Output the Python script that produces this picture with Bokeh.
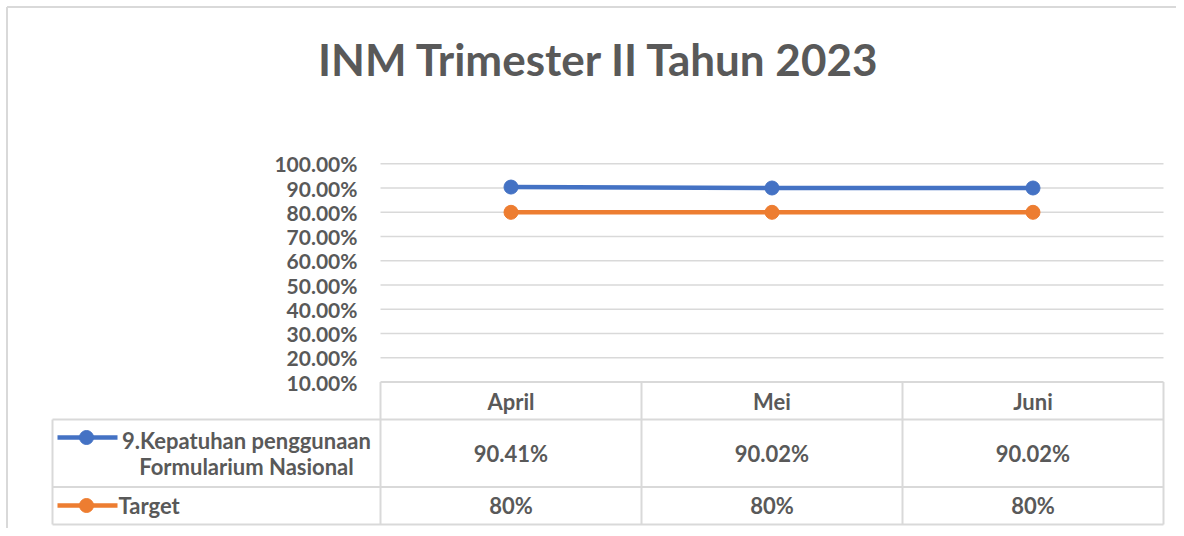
from bokeh.plotting import figure
from bokeh.models import Range1d
from bokeh.core.properties import value
from bokeh.embed import file_html
from bokeh.resources import INLINE

# ---------------- data ----------------
title_text = "INM Trimester II Tahun 2023"
months = ["April", "Mei", "Juni"]
kepatuhan = [90.41, 90.02, 90.02]
target = [80, 80, 80]
kepatuhan_labels = ["90.41%", "90.02%", "90.02%"]
target_labels = ["80%", "80%", "80%"]
series1_name = ["9.Kepatuhan penggunaan", "Formularium Nasional"]
series2_name = "Target"
y_ticks = [10, 20, 30, 40, 50, 60, 70, 80, 90, 100]
y_tick_labels = ["10.00%", "20.00%", "30.00%", "40.00%", "50.00%",
                 "60.00%", "70.00%", "80.00%", "90.00%", "100.00%"]

# ---------------- layout ----------------
W, H = 1176, 528
OFF = 0                       # observed page offset of the canvas
X0_PX, COL_PX = 510.5, 261.0  # page x of first category, px per category
Y100_PX, PX_PER = 163.3, 2.425  # page y of 100 %, px per percent

def X(px):
    return (px - X0_PX) / COL_PX

def Y(py):
    return 100 - (py - Y100_PX) / PX_PER

FONT = value("Lato")
GREY = "#595959"
LINE = "#d9d9d9"
BLUE = "#4472C4"
ORANGE = "#ED7D31"

p = figure(width=W, height=H, output_backend="svg", toolbar_location=None,
           x_range=Range1d(X(OFF), X(OFF + W)), y_range=Range1d(Y(OFF + H), Y(OFF)),
           min_border=0, outline_line_color=None)
p.axis.visible = False
p.grid.visible = False

xs = list(range(len(months)))
left_edge, right_edge = -0.5, len(months) - 0.5

# chart border (left and top edges visible)
p.segment(x0=[X(6.5), X(6.5)], x1=[X(6.5), X(1300)], y0=[Y(6.5), Y(6.5)], y1=[Y(600), Y(6.5)],
          line_color=LINE, line_width=2)

# title
p.text(x=[X(599)], y=[Y(58)], text=[title_text], text_font=FONT, text_font_style="bold",
       text_font_size="44px", text_color=GREY, text_align="center", text_baseline="middle")

# grid lines
grid_vals = y_ticks[1:]
p.segment(x0=[left_edge] * len(grid_vals), x1=[right_edge] * len(grid_vals),
          y0=grid_vals, y1=grid_vals, line_color=LINE, line_width=1.5)

# y tick labels
p.text(x=[X(357)] * len(y_ticks), y=y_ticks, text=y_tick_labels, text_font=FONT,
       text_font_style="bold", text_font_size="21px", text_color=GREY,
       text_align="right", text_baseline="middle")

# series
p.line(xs, kepatuhan, line_color=BLUE, line_width=4.5)
p.scatter(xs, kepatuhan, size=14, fill_color=BLUE, line_color=BLUE)
p.line(xs, target, line_color=ORANGE, line_width=4.5)
p.scatter(xs, target, size=14, fill_color=ORANGE, line_color=ORANGE)

# ---------------- data table ----------------
row_top = y_ticks[0]
row1 = Y(419)
row2 = Y(486.5)
row3 = Y(524)
lab_left = X(52)

# horizontal lines
p.segment(x0=[left_edge, lab_left, lab_left, lab_left],
          x1=[right_edge] * 4,
          y0=[row_top, row1, row2, row3], y1=[row_top, row1, row2, row3],
          line_color=LINE, line_width=2)
# vertical lines
vx = [left_edge + i for i in range(len(months) + 1)]
p.segment(x0=vx, x1=vx, y0=[row_top] * len(vx), y1=[row3] * len(vx),
          line_color=LINE, line_width=2)
p.segment(x0=[lab_left], x1=[lab_left], y0=[row1], y1=[row3], line_color=LINE, line_width=2)

TS = "22px"
# header
p.text(x=xs, y=[Y(401)] * 3, text=months, text_font=FONT, text_font_style="bold",
       text_font_size=TS, text_color=GREY, text_align="center", text_baseline="middle")
# values
p.text(x=xs, y=[Y(453)] * 3, text=kepatuhan_labels, text_font=FONT, text_font_style="bold",
       text_font_size=TS, text_color=GREY, text_align="center", text_baseline="middle")
p.text(x=xs, y=[Y(505)] * 3, text=target_labels, text_font=FONT, text_font_style="bold",
       text_font_size=TS, text_color=GREY, text_align="center", text_baseline="middle")
# series names
p.text(x=[X(246), X(246)], y=[Y(440), Y(466)], text=series1_name, text_font=FONT,
       text_font_style="bold", text_font_size=TS, text_color=GREY,
       text_align="center", text_baseline="middle")
p.text(x=[X(118)], y=[Y(505)], text=[series2_name], text_font=FONT,
       text_font_style="bold", text_font_size=TS, text_color=GREY,
       text_align="left", text_baseline="middle")

# legend keys
for col, yk in ((BLUE, Y(437)), (ORANGE, Y(505))):
    p.line([X(57), X(117)], [yk, yk], line_color=col, line_width=4.5)
    p.scatter([X(86)], [yk], size=14, fill_color=col, line_color=col)

open("out.html", "w").write(file_html(p, INLINE))
